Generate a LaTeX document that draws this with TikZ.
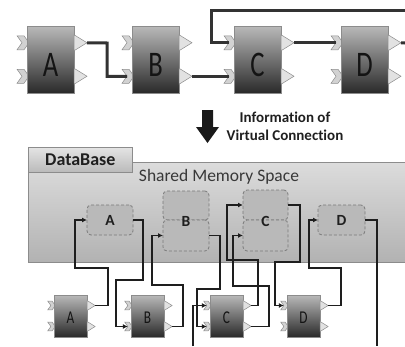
\documentclass[tikz,border=0pt]{standalone}
\usepackage{fontspec}
\setmainfont{Carlito}[Ligatures={NoCommon}]
\usepackage{graphicx}
\usetikzlibrary{arrows.meta}
\definecolor{blkTop}{HTML}{B9B9B9}
\definecolor{blkBot}{HTML}{2A2A2A}
\definecolor{wireTop}{HTML}{333333}
\definecolor{wireLow}{HTML}{1E1E1E}
\definecolor{panelTop}{HTML}{DCDCDC}
\definecolor{panelBot}{HTML}{B2B2B2}
\definecolor{tabTop}{HTML}{E4E4E4}
\definecolor{tabBot}{HTML}{BABABA}
\definecolor{dashFill}{HTML}{B9B9B9}
\definecolor{dashLine}{HTML}{7A7A7A}
\definecolor{portLine}{HTML}{8C8C8C}
\definecolor{chevFill}{HTML}{D2D2D2}
\definecolor{outFill}{HTML}{E2E2E2}
\tikzset{
  blk/.style={draw=portLine, line width=0.5pt, top color=blkTop, bottom color=blkBot, inner sep=0pt, outer sep=0pt},
  blklabel/.style={inner sep=0pt, text=black!92},
  chev/.style={draw=portLine, fill=chevFill, line width=0.5pt, line join=miter},
  outp/.style={draw=portLine, fill=outFill, line width=0.5pt},
  topwire/.style={draw=wireTop, line width=3pt, line join=miter},
  lowwire/.style={draw=wireLow, line width=1.8pt, line join=miter, -{Latex[length=5pt,width=5pt]}},
  lowplain/.style={draw=wireLow, line width=1.8pt, line join=miter},
  dbox/.style={draw=dashLine, dash pattern=on 3pt off 2pt, line width=0.8pt, fill=dashFill, rounded corners=4pt, inner sep=0pt, outer sep=0pt, anchor=north west},
  dlabel/.style={font=\bfseries\fontsize{15.5}{15.5}\selectfont, text=black!88, inner sep=0pt},
}
% #1 name, #2 left, #3 top, #4 w, #5 h, #6 letter size, #7 letter drop, #8 letter
\newcommand\FBlock[8]{%
  \pgfmathsetmacro\fbR{#2+#4}%
  \pgfmathsetmacro\fbYa{#3+0.25*#5}%
  \pgfmathsetmacro\fbYb{#3+0.75*#5}%
  \pgfmathsetmacro\fbs{#5/67}%
  \draw[chev] (#2-10*\fbs,\fbYa-7*\fbs) -- (#2-3*\fbs,\fbYa-7*\fbs) -- (#2+2*\fbs,\fbYa) -- (#2-3*\fbs,\fbYa+7*\fbs) -- (#2-10*\fbs,\fbYa+7*\fbs) -- (#2-5*\fbs,\fbYa) -- cycle;
  \draw[chev] (#2-10*\fbs,\fbYb-7*\fbs) -- (#2-3*\fbs,\fbYb-7*\fbs) -- (#2+2*\fbs,\fbYb) -- (#2-3*\fbs,\fbYb+7*\fbs) -- (#2-10*\fbs,\fbYb+7*\fbs) -- (#2-5*\fbs,\fbYb) -- cycle;
  \coordinate (#1i1) at (#2-5*\fbs,\fbYa);
  \coordinate (#1i2) at (#2-5*\fbs,\fbYb);
  \node[blk, minimum width=#4pt, minimum height=#5pt, anchor=north west] (#1) at (#2,#3) {};
  \node[blklabel, yshift=-#7pt] (#1L) at (#1.center) {\scalebox{0.74}[1]{\fontsize{#6}{#6}\selectfont #8}};
  \draw[outp] (\fbR,\fbYa-8*\fbs) -- (\fbR+13*\fbs,\fbYa) -- (\fbR,\fbYa+8*\fbs) -- cycle;
  \draw[outp] (\fbR,\fbYb-8*\fbs) -- (\fbR+13*\fbs,\fbYb) -- (\fbR,\fbYb+8*\fbs) -- cycle;
  \coordinate (#1o1) at (\fbR+13*\fbs,\fbYa);
  \coordinate (#1o2) at (\fbR+13*\fbs,\fbYb);
}
\begin{document}
\begin{tikzpicture}[x=1pt,y=-1pt]
\useasboundingbox (0,0) rectangle (405,346);
% ---------- top row ----------
\FBlock{A}{27}{26}{47}{67}{36}{5.5}{A}
\FBlock{B}{132}{26}{47}{67}{36}{5.5}{B}
\FBlock{C}{234}{26}{47}{67}{36}{5.5}{C}
\FBlock{D}{341}{26}{47}{67}{36}{5.5}{D}
\coordinate (eastTop) at (405,10);
\coordinate (eastOut) at (405,43);
\draw[topwire] (Ao1) -- (107,43) |- (Bi2);
\draw[topwire] (Bo2) -- (Ci2);
\draw[topwire] (Co1) -- (Di1);
\draw[topwire] (Do1) -- (eastOut);
\draw[topwire] (eastTop) -- (211,10) |- (Ci1);
% ---------- big arrow and caption ----------
\fill[black!90] (202,110) -- (213,110) -- (213,127) -- (219,127) -- (207.5,143) -- (196,127) -- (202,127) -- cycle;
\node[font=\bfseries\fontsize{15}{18}\selectfont, align=center, text=black!88, inner sep=0pt] (info) at (285,126) {Information of\\Virtual Connection};
% ---------- database panel ----------
\path[draw=portLine, line width=0.6pt, top color=panelTop, bottom color=panelBot] (28,162) rectangle (406,262);
\node[draw=portLine, line width=0.6pt, top color=tabTop, bottom color=tabBot, minimum width=104pt, minimum height=25pt, anchor=north west, inner sep=0pt, font=\bfseries\fontsize{18}{18}\selectfont, text=black!88] (dbtab) at (28,147) {DataBase};
\node[font=\fontsize{17.5}{17.5}\selectfont, text=black!78, inner sep=0pt] (shm) at (219,177) {Shared Memory Space};
% dashed boxes
\node[dbox, minimum width=46pt, minimum height=30pt] (dA) at (87,205) {};
\node[dlabel] (dAL) at (dA.center) {A};
\node[dbox, minimum width=46pt, minimum height=29pt] (dBt) at (163,191) {};
\node[dbox, minimum width=46pt, minimum height=31pt] (dBb) at (163,220) {};
\node[dlabel] (dBL) at (186,221) {B};
\node[dbox, minimum width=45pt, minimum height=30pt] (dCt) at (243,190) {};
\node[dbox, minimum width=45pt, minimum height=31pt] (dCb) at (243,220) {};
\node[dlabel] (dCL) at (265.5,221) {C};
\node[dbox, minimum width=47pt, minimum height=30pt] (dD) at (318,205) {};
\node[dlabel] (dDL) at (dD.center) {D};
% ---------- bottom row ----------
\FBlock{a}{54}{295}{33}{42}{18}{1.5}{A}
\FBlock{b}{131}{295}{33}{42}{18}{1.5}{B}
\FBlock{c}{210}{295}{33}{42}{18}{1.5}{C}
\FBlock{d}{287}{295}{33}{42}{18}{1.5}{D}
\coordinate (cinBot) at (193,346);
\coordinate (doutBot) at (377,346);
\draw[lowwire] (ao1) -| (108,268) -| ([xshift=-12pt]dA.west) -- (dA.west);
\draw[lowwire] (dA.east) -| (143,280) -| ([xshift=-12pt]bi2) -- (bi2);
\draw[lowwire] (bo2) -| (183,285) -| ([xshift=-11pt]dBb.west) -- (dBb.west);
\draw[lowwire] (dBb.east) -| (220,289) -| ([xshift=-10pt]ci2) -- (ci2);
\draw[lowwire] (cinBot) |- (ci1);
\draw[lowwire] (co1) -| (258,260) -| ([xshift=-16pt]dCt.west) -- (dCt.west);
\draw[lowwire] (co2) -| (269,286) -| ([xshift=-10pt]dCb.west) -- (dCb.west);
\draw[lowwire] (dCt.east) -| (300,262) -| ([xshift=-9pt]di1) -- (di1);
\draw[lowwire] (do1) -| (341,268) -| ([xshift=-9pt]dD.west) -- (dD.west);
\draw[lowplain] (dD.east) -| (doutBot);
\end{tikzpicture}
\end{document}
